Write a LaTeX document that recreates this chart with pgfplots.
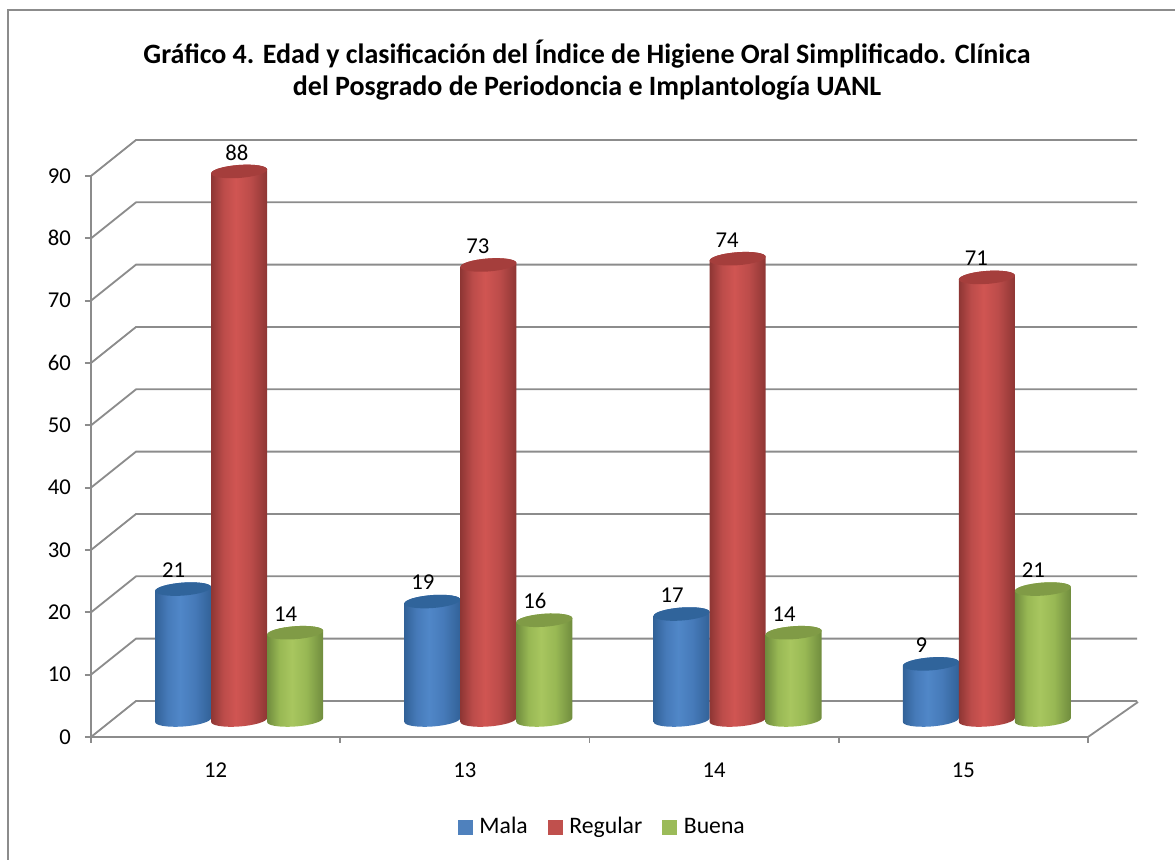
\documentclass[border=0pt]{standalone}
\usepackage{pgfplots}
\pgfplotsset{compat=1.18}
\usepackage{fontspec}
\setmainfont{Carlito}
\definecolor{axgray}{RGB}{140,140,140}
\definecolor{bD}{RGB}{50,98,152}\definecolor{bM}{RGB}{70,122,185}\definecolor{bL}{RGB}{80,135,200}\definecolor{bT}{RGB}{48,100,155}
\definecolor{rD}{RGB}{142,54,52}\definecolor{rM}{RGB}{188,76,74}\definecolor{rL}{RGB}{208,85,82}\definecolor{rT}{RGB}{165,62,60}
\definecolor{gD}{RGB}{112,140,62}\definecolor{gM}{RGB}{152,184,84}\definecolor{gL}{RGB}{168,198,95}\definecolor{gT}{RGB}{128,155,70}
\definecolor{legb}{RGB}{79,129,189}\definecolor{legr}{RGB}{192,80,77}\definecolor{legg}{RGB}{155,187,89}
\pgfdeclarehorizontalshading{cylb}{100bp}{color(0bp)=(bD);color(25bp)=(bD);color(36bp)=(bM);color(47bp)=(bL);color(60bp)=(bM);color(75bp)=(bD);color(100bp)=(bD)}
\pgfdeclarehorizontalshading{cylr}{100bp}{color(0bp)=(rD);color(25bp)=(rD);color(36bp)=(rM);color(47bp)=(rL);color(60bp)=(rM);color(75bp)=(rD);color(100bp)=(rD)}
\pgfdeclarehorizontalshading{cylg}{100bp}{color(0bp)=(gD);color(25bp)=(gD);color(36bp)=(gM);color(47bp)=(gL);color(60bp)=(gM);color(75bp)=(gD);color(100bp)=(gD)}
\newcommand\cylbody[3]{%
  \pgfmathsetlengthmacro{\cylH}{\rawy*3.74pt}%
  \shade[shading=#2,draw=none] ({#1-16.8pt},{9.02pt-\cylH})
    .. controls +(0pt,-2.15pt) and +(-9.28pt,-0.65pt) .. ++(16.8pt,-2.72pt)
    .. controls +(9.28pt,0.65pt) and +(0pt,-2.15pt) .. ++(16.8pt,5.08pt)
    -- ++(0pt,\cylH)
    .. controls +(0pt,2.15pt) and +(9.28pt,0.65pt) .. ++(-16.8pt,2.72pt)
    .. controls +(-9.28pt,-0.65pt) and +(0pt,2.15pt) .. ++(-16.8pt,-5.08pt)
    -- cycle;
  \path[fill=#3,draw=none] ({#1-16.8pt},9.02pt)
    .. controls +(0pt,-2.15pt) and +(-9.28pt,-0.65pt) .. ++(16.8pt,-2.72pt)
    .. controls +(9.28pt,0.65pt) and +(0pt,-2.15pt) .. ++(16.8pt,5.08pt)
    .. controls +(0pt,2.15pt) and +(9.28pt,0.65pt) .. ++(-16.8pt,2.72pt)
    .. controls +(-9.28pt,-0.65pt) and +(0pt,2.15pt) .. ++(-16.8pt,-5.08pt)
    -- cycle;
}
\pgfdeclareplotmark{mb}{\cylbody{-19.5pt}{cylb}{bT}}
\pgfdeclareplotmark{mr}{\cylbody{14.1pt}{cylr}{rT}}
\pgfdeclareplotmark{mg}{\cylbody{47.7pt}{cylg}{gT}}
\pgfplotsset{
  cyl/.style n args={2}{
    scatter, only marks, mark=#1, point meta=y, forget plot,
    visualization depends on={rawy \as \rawy},
    nodes near coords,
    every node near coord/.append style={anchor=center, xshift=#2, yshift=21.6pt, text=black, font=\fontsize{13.6pt}{15pt}\selectfont},
  }
}
\begin{document}
\begin{tikzpicture}
\path[use as bounding box] (0pt,0pt) rectangle (705pt,516pt);
\draw[axgray,line width=1.1pt] (4.8pt,0pt) -- (4.8pt,510pt) -- (705pt,510pt);
\begin{axis}[
  at={(54.6pt,73.8pt)}, anchor=origin,
  scale only axis, width=598.2pt, height=336.6pt,
  xmin=0, xmax=4, ymin=0, ymax=90,
  clip=false,
  axis x line=bottom, axis y line=left,
  axis line style={axgray,line width=1.1pt,-},
  tick style={axgray,line width=1.1pt},
  tick align=outside,
  xtick={0,1,2,3,4}, xticklabels={,,,,},
  extra x ticks={0.5,1.5,2.5,3.5}, extra x tick labels={12,13,14,15},
  extra x tick style={tick style={draw=none}},
  major tick length=3.6pt,
  ytick={0,10,...,90},
  /pgf/number format/assume math mode=true,
  tick label style={font=\fontsize{13.6pt}{15pt}\selectfont,text=black},
  xticklabel style={yshift=-8.5pt},
  yticklabel style={xshift=-5pt},
  title={Gráfico 4. Edad y clasificación del Índice de Higiene Oral Simplificado. Clínica\\del Posgrado de Periodoncia e Implantología UANL},
  title style={at={(0.4975,1.171)},anchor=center,align=center,font=\bfseries\fontsize{16.8pt}{19.5pt}\selectfont,text=black},
  legend columns=3,
  legend style={draw=none,fill=none,at={(0.5135,-0.1604)},anchor=center,font=\fontsize{14.2pt}{16pt}\selectfont,
    /tikz/every even column/.style={column sep=10pt},/tikz/every odd column/.style={column sep=2.2pt}, inner sep=0pt},
]
\pgfplotsinvokeforeach{0,10,...,90}{
  \draw[axgray,line width=1.1pt] (axis cs:0,#1) -- ++(27pt,21.6pt) -- ++(600.6pt,0pt);
}
\draw[axgray,line width=1.1pt] (axis cs:4,0) -- ++(30pt,21pt);

\addplot[cyl={mb}{-25.2pt}] coordinates {(0.5,21) (1.5,19) (2.5,17) (3.5,9)};
\addplot[cyl={mr}{7.8pt},coordinate style/.condition={y>80}{xshift=5pt}] coordinates {(0.5,88) (1.5,73) (2.5,74) (3.5,71)};
\addplot[cyl={mg}{42pt}] coordinates {(0.5,14) (1.5,16) (2.5,14) (3.5,21)};

\addlegendimage{legend image code/.code={\fill[legb] (0pt,-4.2pt) rectangle (8.4pt,4.2pt);}}
\addlegendentry{Mala}
\addlegendimage{legend image code/.code={\fill[legr] (0pt,-4.2pt) rectangle (8.4pt,4.2pt);}}
\addlegendentry{Regular}
\addlegendimage{legend image code/.code={\fill[legg] (0pt,-4.2pt) rectangle (8.4pt,4.2pt);}}
\addlegendentry{Buena}
\end{axis}
\end{tikzpicture}
\end{document}
